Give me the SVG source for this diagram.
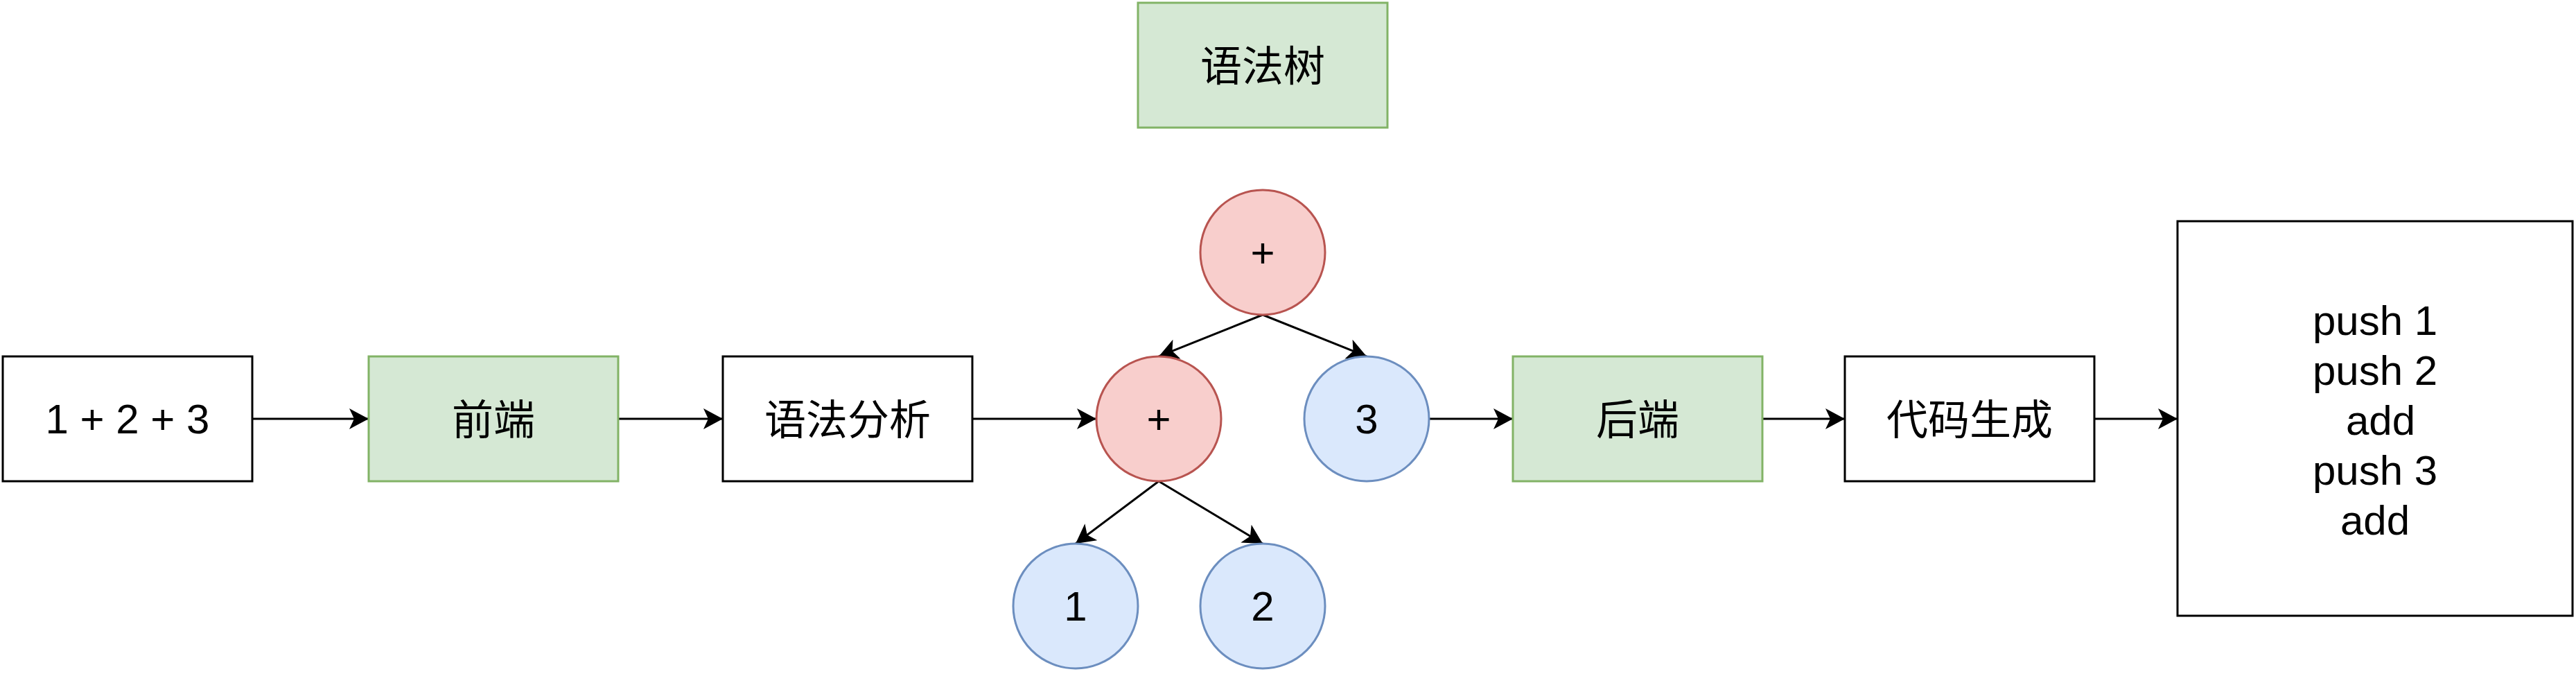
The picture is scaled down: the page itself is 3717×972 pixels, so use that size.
<svg xmlns="http://www.w3.org/2000/svg" width="3717" height="972" viewBox="0 0 3717 972">
  <style>
    .box { fill: #ffffff; stroke: #000000; stroke-width: 3; }
    .green { fill: #d5e8d4; stroke: #82b366; stroke-width: 3; }
    .red { fill: #f8cecc; stroke: #b85450; stroke-width: 3; }
    .blue { fill: #dae8fc; stroke: #6c8ebf; stroke-width: 3; }
    .t { font-family: "Liberation Sans", Arial, "Noto Sans CJK SC", sans-serif; font-size: 60px; fill: #000000; text-anchor: middle; }
    .c { font-family: "Liberation Sans", Arial, "Noto Sans CJK SC", sans-serif; font-size: 60px; fill: #000000; text-anchor: middle; }
    .edge { fill: none; stroke: #000000; stroke-width: 3; marker-end: url(#arrow); }
  </style>
  <defs>
    <marker id="arrow" markerUnits="userSpaceOnUse" viewBox="0 0 28 30" markerWidth="28" markerHeight="30" refX="28" refY="15" orient="auto">
      <path d="M0,0 L28,15 L0,30 L7,15 Z" fill="#000000"/>
    </marker>
  </defs>
  <rect width="3717" height="972" fill="#ffffff"/>

  <g id="connectors">
    <line class="edge" x1="364" y1="604" x2="532" y2="604"/>
    <line class="edge" x1="892" y1="604" x2="1043" y2="604"/>
    <line class="edge" x1="1403" y1="604" x2="1582" y2="604"/>
    <line class="edge" x1="1822" y1="454" x2="1672" y2="514"/>
    <line class="edge" x1="1822" y1="454" x2="1972" y2="514"/>
    <line class="edge" x1="1672" y1="694" x2="1552" y2="784"/>
    <line class="edge" x1="1672" y1="694" x2="1822" y2="784"/>
    <line class="edge" x1="2062" y1="604" x2="2183" y2="604"/>
    <line class="edge" x1="2543" y1="604" x2="2662" y2="604"/>
    <line class="edge" x1="3022" y1="604" x2="3142" y2="604"/>
  </g>

  <g id="node-expr">
    <rect class="box" x="4" y="514" width="360" height="180"/>
    <text class="t" x="184" y="625">1 + 2 + 3</text>
  </g>
  <g id="node-frontend">
    <rect class="green" x="532" y="514" width="360" height="180"/>
    <text class="c" x="712" y="627">前端</text>
  </g>
  <g id="node-parse">
    <rect class="box" x="1043" y="514" width="360" height="180"/>
    <text class="c" x="1223" y="627">语法分析</text>
  </g>
  <g id="node-ast-title">
    <rect class="green" x="1642" y="4" width="360" height="180"/>
    <text class="c" x="1822" y="117">语法树</text>
  </g>
  <g id="node-plus-top">
    <circle class="red" cx="1822" cy="364" r="90"/>
    <text class="t" x="1822" y="385">+</text>
  </g>
  <g id="node-plus-mid">
    <circle class="red" cx="1672" cy="604" r="90"/>
    <text class="t" x="1672" y="625">+</text>
  </g>
  <g id="node-3">
    <circle class="blue" cx="1972" cy="604" r="90"/>
    <text class="t" x="1972" y="625">3</text>
  </g>
  <g id="node-1">
    <circle class="blue" cx="1552" cy="874" r="90"/>
    <text class="t" x="1552" y="895">1</text>
  </g>
  <g id="node-2">
    <circle class="blue" cx="1822" cy="874" r="90"/>
    <text class="t" x="1822" y="895">2</text>
  </g>
  <g id="node-backend">
    <rect class="green" x="2183" y="514" width="360" height="180"/>
    <text class="c" x="2363" y="627">后端</text>
  </g>
  <g id="node-codegen">
    <rect class="box" x="2662" y="514" width="360" height="180"/>
    <text class="c" x="2842" y="627">代码生成</text>
  </g>
  <g id="node-output">
    <rect class="box" x="3142" y="319" width="570" height="569"/>
    <text class="t" x="3427" y="483">push 1</text>
    <text class="t" x="3427" y="555">push 2</text>
    <text class="t" x="3435" y="627">add</text>
    <text class="t" x="3427" y="699">push 3</text>
    <text class="t" x="3427" y="771">add</text>
  </g>
</svg>
